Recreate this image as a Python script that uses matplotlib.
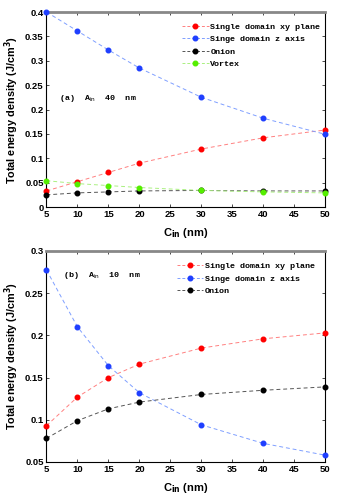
import matplotlib
matplotlib.use("Agg")
import matplotlib.pyplot as plt

c_in = [5, 10, 15, 20, 30, 40, 50]

# Panel (a): A_in = 40 nm
a_xy = [0.033, 0.052, 0.071, 0.090, 0.119, 0.142, 0.158]
a_z = [0.400, 0.361, 0.322, 0.285, 0.225, 0.182, 0.149]
a_onion = [0.025, 0.029, 0.031, 0.033, 0.034, 0.033, 0.033]
a_vortex = [0.054, 0.048, 0.044, 0.040, 0.034, 0.031, 0.029]

# Panel (b): A_in = 10 nm
b_xy = [0.093, 0.127, 0.150, 0.166, 0.185, 0.196, 0.203]
b_z = [0.2775, 0.210, 0.164, 0.132, 0.094, 0.072, 0.058]
b_onion = [0.078, 0.099, 0.113, 0.121, 0.130, 0.135, 0.139]

labels = ["Single domain xy plane", "Singe domain z axis", "Onion", "Vortex"]
xticks = [5, 10, 15, 20, 25, 30, 35, 40, 45, 50]

fig = plt.figure(figsize=(3.59, 4.98), dpi=100)
ax1 = fig.add_axes([0.1295, 0.5843, 0.777, 0.3916])
ax2 = fig.add_axes([0.1295, 0.0723, 0.777, 0.4237])

styles = [("#ff0000", "#ff8080"), ("#1f3fff", "#7f9fff"), ("#000000", "#555555"), ("#55ee00", "#aaf080")]

mono = {"family": "Liberation Mono", "weight": "bold", "size": 6}
MS = 3.3


def draw(ax, series, ylim, yticks, yticklabels, ann, ann_xy, leg_anchor):
    handles = []
    for (vals, lab, (mc, lc)) in zip(series, labels, styles):
        ax.plot(c_in, vals, linestyle=(0, (4, 3)), color=lc, linewidth=0.7, zorder=2)
        ax.plot(c_in, vals, linestyle="none", marker="o", markersize=MS,
                color=mc, zorder=3, clip_on=False)
        h, = ax.plot([], [], linestyle=(0, (3, 2)), color=lc, linewidth=0.7,
                     marker="o", markersize=MS, markerfacecolor=mc, markeredgecolor=mc)
        handles.append(h)
    ax.set_xlim(5, 50)
    ax.set_ylim(*ylim)
    ax.set_xticks(xticks)
    ax.set_xticklabels([str(t) for t in xticks], fontsize=6.8, fontweight="bold",
                       family="Liberation Sans")
    ax.set_yticks(yticks)
    ax.set_yticklabels(yticklabels, fontsize=6.8, fontweight="bold", family="Liberation Sans")
    ax.tick_params(direction="in", top=True, right=True, length=2.5, width=0.5, pad=2)
    for s in ["left", "bottom", "right"]:
        ax.spines[s].set_linewidth(0.8)
    ax.spines["top"].set_color("#888888")
    ax.spines["top"].set_linewidth(2.0)
    ax.set_xlabel("C$_{\\mathbf{in}}$ (nm)", fontsize=8, fontweight="bold",
                  family="Liberation Sans", labelpad=5)
    ax.set_ylabel("Total energy density (J/cm$^{\\mathbf{3}}$)", fontsize=7.8,
                  fontweight="bold", family="Liberation Sans", labelpad=3)
    ax.text(ann_xy[0], ann_xy[1], ann, transform=ax.transAxes, fontdict=mono,
            va="center", ha="left")
    ax.legend(handles=handles[:len(series)], labels=labels[:len(series)],
              loc="upper right", bbox_to_anchor=leg_anchor, frameon=False,
              prop={"family": "Liberation Mono", "weight": "bold", "size": 6},
              handlelength=3.2, handletextpad=0.2, labelspacing=0.55,
              borderaxespad=0.2)


draw(ax1, [a_xy, a_z, a_onion, a_vortex], (0, 0.4),
     [0, 0.05, 0.1, 0.15, 0.2, 0.25, 0.3, 0.35, 0.4],
     ["0", "0.05", "0.1", "0.15", "0.2", "0.25", "0.3", "0.35", "0.4"],
     "(a)  A$_{\\mathrm{in}}$  40  nm", (0.045, 0.555), (1.0, 0.97))

draw(ax2, [b_xy, b_z, b_onion], (0.05, 0.3),
     [0.05, 0.1, 0.15, 0.2, 0.25, 0.3],
     ["0.05", "0.1", "0.15", "0.2", "0.25", "0.3"],
     "(b)  A$_{\\mathrm{in}}$  10  nm", (0.06, 0.885), (0.98, 0.97))

fig.savefig("out.png", dpi=100)
